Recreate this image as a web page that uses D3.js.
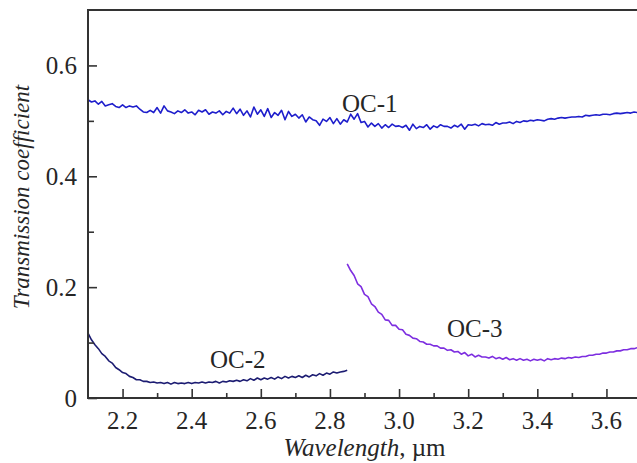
<!DOCTYPE html>
<html>
<head>
<meta charset="utf-8">
<script src="https://cdn.jsdelivr.net/npm/d3@7"></script>
<style>
  html, body { margin: 0; padding: 0; background: #fff; }
  svg { display: block; }
</style>
</head>
<body>
<svg id="chart" width="637" height="463"></svg>
<script>
// Wavelength grid step 0.01 µm
const oc1Start = 2.10;
const oc1Values = [
  0.538,0.534,0.536,0.530,0.535,0.527,0.529,0.531,0.526,0.524,
  0.529,0.524,0.527,0.525,0.527,0.521,0.516,0.515,0.519,0.515,
  0.524,0.514,0.527,0.518,0.516,0.513,0.518,0.515,0.520,0.514,
  0.516,0.511,0.519,0.516,0.520,0.512,0.516,0.514,0.518,0.511,
  0.517,0.514,0.523,0.513,0.521,0.510,0.518,0.507,0.525,0.512,
  0.520,0.508,0.522,0.506,0.515,0.510,0.519,0.502,0.517,0.508,
  0.512,0.505,0.511,0.498,0.507,0.502,0.500,0.492,0.503,0.499,
  0.506,0.495,0.504,0.494,0.502,0.498,0.512,0.503,0.513,0.497,
  0.499,0.489,0.496,0.490,0.495,0.487,0.493,0.488,0.494,0.490,
  0.491,0.488,0.492,0.483,0.494,0.486,0.490,0.488,0.493,0.485,
  0.491,0.488,0.493,0.490,0.490,0.487,0.492,0.489,0.494,0.485,
  0.493,0.492,0.494,0.491,0.495,0.493,0.494,0.492,0.497,0.494,
  0.496,0.496,0.498,0.495,0.499,0.497,0.500,0.499,0.501,0.500,
  0.502,0.501,0.500,0.503,0.504,0.503,0.505,0.506,0.505,0.506,
  0.507,0.507,0.508,0.507,0.510,0.509,0.510,0.511,0.510,0.512,
  0.512,0.511,0.513,0.514,0.513,0.514,0.515,0.514,0.516,0.515,
  0.516
];

const oc2Start = 2.10;
const oc2Values = [
  0.117,0.105,0.096,0.089,0.080,0.075,0.067,0.063,0.055,0.051,
  0.046,0.044,0.039,0.037,0.033,0.033,0.030,0.030,0.028,0.029,
  0.027,0.028,0.026,0.028,0.025,0.028,0.026,0.027,0.026,0.028,
  0.026,0.028,0.027,0.029,0.027,0.029,0.028,0.030,0.027,0.030,
  0.029,0.031,0.030,0.032,0.030,0.033,0.031,0.035,0.032,0.036,
  0.033,0.036,0.034,0.037,0.034,0.038,0.035,0.039,0.036,0.039,
  0.037,0.040,0.037,0.041,0.038,0.042,0.040,0.044,0.041,0.045,
  0.043,0.047,0.045,0.047,0.048,0.050
];

const oc3Start = 2.85;
const oc3Values = [
  0.242,0.230,0.221,0.206,0.201,0.187,0.183,0.170,0.165,0.155,
  0.151,0.141,0.140,0.131,0.131,0.124,0.123,0.115,0.113,0.108,
  0.107,0.102,0.101,0.097,0.097,0.094,0.094,0.090,0.090,0.086,
  0.087,0.083,0.084,0.079,0.082,0.076,0.079,0.074,0.077,0.074,
  0.074,0.072,0.075,0.071,0.073,0.070,0.073,0.069,0.071,0.068,
  0.071,0.068,0.070,0.067,0.070,0.068,0.070,0.067,0.071,0.069,
  0.071,0.070,0.072,0.071,0.073,0.072,0.074,0.073,0.075,0.075,
  0.077,0.077,0.079,0.079,0.081,0.081,0.083,0.083,0.085,0.085,
  0.087,0.087,0.089,0.089,0.091,0.093
];

const xTicks = [2.2, 2.4, 2.6, 2.8, 3.0, 3.2, 3.4, 3.6];
const xMinorTicks = [2.3, 2.5, 2.7, 2.9, 3.1, 3.3, 3.5];
const yTicks = [0, 0.2, 0.4, 0.6];
const yTickLabels = ["0", "0.2", "0.4", "0.6"];
const yMinorTicks = [0.1, 0.3, 0.5];

const seriesNames = ["OC-1", "OC-2", "OC-3"];
const seriesColors = ["#1e1ecc", "#1c1c72", "#7d2ee0"];

const toPoints = (start, vals) => vals.map((v, i) => [start + i * 0.01, v]);
const series = [
  toPoints(oc1Start, oc1Values),
  toPoints(oc2Start, oc2Values),
  toPoints(oc3Start, oc3Values)
];

const serif = "'Liberation Serif', 'Times New Roman', Times, 'DejaVu Serif', serif";
const ink = "#262626";

const svg = d3.select("#chart")
  .attr("font-family", serif);
const plotLeft = 88, plotTop = 10, plotBottom = 398, plotRight = 641;

const x = d3.scaleLinear().domain([2.1, 3.7]).range([plotLeft, plotRight]);
const y = d3.scaleLinear().domain([0, 0.7]).range([plotBottom, plotTop]);

// Curves
const line = d3.line().x(d => x(d[0])).y(d => y(d[1]));
series.forEach((pts, i) => {
  svg.append("path")
    .datum(pts)
    .attr("fill", "none")
    .attr("stroke", seriesColors[i])
    .attr("stroke-width", 1.6)
    .attr("stroke-linejoin", "round")
    .attr("d", line);
});

// Frame
svg.append("path")
  .attr("d", `M${plotRight},${plotTop}H${plotLeft}V${plotBottom}H${plotRight}`)
  .attr("fill", "none").attr("stroke", "#333").attr("stroke-width", 2);

// X axis (inward ticks)
const xAxis = d3.axisTop(x).tickValues(xTicks).tickSize(9).tickFormat("");
const gx = svg.append("g").attr("transform", `translate(0,${plotBottom})`).call(xAxis);
const xAxisMinor = d3.axisTop(x).tickValues(xMinorTicks).tickSize(5).tickFormat("");
const gxm = svg.append("g").attr("transform", `translate(0,${plotBottom})`).call(xAxisMinor);
[gx, gxm].forEach(g => {
  g.select(".domain").remove();
  g.selectAll("line").attr("stroke", "#333").attr("stroke-width", 1.6);
});
svg.append("g").selectAll("text").data(xTicks).join("text")
  .attr("x", d => x(d)).attr("y", 429)
  .attr("text-anchor", "middle").attr("font-size", 25)
  .attr("font-family", serif).attr("fill", ink)
  .text(d => d.toFixed(1));

// Y axis (inward ticks)
const yAxis = d3.axisRight(y).tickValues(yTicks).tickSize(9).tickFormat("");
const gy = svg.append("g").attr("transform", `translate(${plotLeft},0)`).call(yAxis);
const yAxisMinor = d3.axisRight(y).tickValues(yMinorTicks).tickSize(6).tickFormat("");
const gym = svg.append("g").attr("transform", `translate(${plotLeft},0)`).call(yAxisMinor);
[gy, gym].forEach(g => {
  g.select(".domain").remove();
  g.selectAll("line").attr("stroke", "#333").attr("stroke-width", 1.6);
});
svg.append("g").selectAll("text").data(yTicks).join("text")
  .attr("x", 77).attr("y", d => y(d) + 9)
  .attr("text-anchor", "end").attr("font-size", 25)
  .attr("font-family", serif).attr("fill", ink)
  .text((d, i) => yTickLabels[i]);

// Axis titles
const xt = svg.append("text")
  .attr("x", (plotLeft + plotRight) / 2).attr("y", 456)
  .attr("text-anchor", "middle").attr("font-size", 25)
  .attr("font-family", serif).attr("fill", ink);
xt.append("tspan").attr("font-style", "italic").text("Wavelength");
xt.append("tspan").text(", µm");

svg.append("text")
  .attr("transform", "translate(29,197) rotate(-90)")
  .attr("text-anchor", "middle").attr("font-size", 23).attr("font-style", "italic")
  .attr("font-family", serif).attr("fill", ink)
  .text("Transmission coefficient");

// Curve labels
const labelPos = [[342, 112], [210, 368], [447, 337]];
seriesNames.forEach((n, i) => {
  svg.append("text")
    .attr("x", labelPos[i][0]).attr("y", labelPos[i][1])
    .attr("font-size", 25)
    .attr("font-family", serif).attr("fill", ink)
    .text(n);
});
</script>
</body>
</html>
